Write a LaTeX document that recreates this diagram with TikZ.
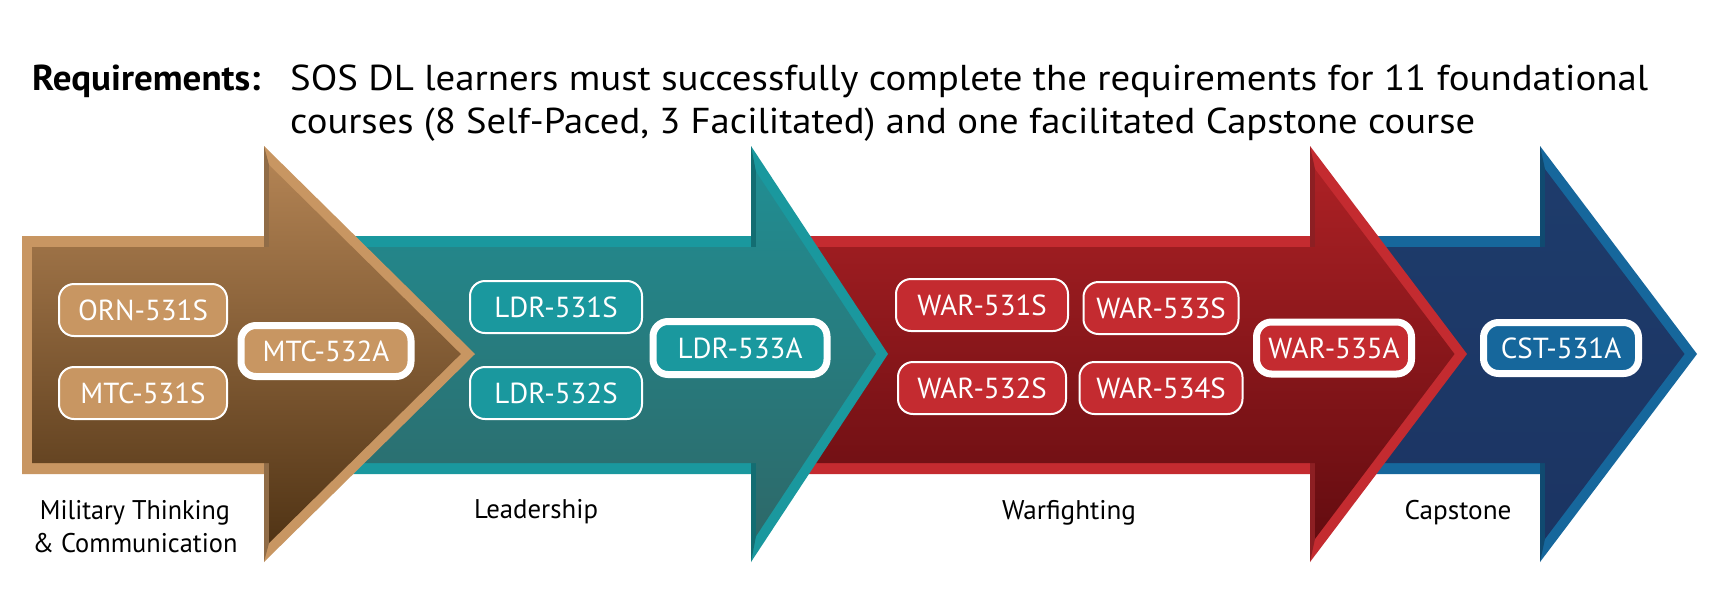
\documentclass[tikz,border=0pt]{standalone}
\usepackage{fontspec}
\setmainfont{PT Sans}
\usepackage{graphicx}
\definecolor{brBorder}{RGB}{200,150,98}
\definecolor{brTop}{RGB}{182,134,86}
\definecolor{brMid}{RGB}{108,73,39}
\definecolor{brBot}{RGB}{76,48,18}
\definecolor{tlBorder}{RGB}{26,152,158}
\definecolor{tlTop}{RGB}{32,144,149}
\definecolor{tlMid}{RGB}{38,116,118}
\definecolor{tlBot}{RGB}{46,102,102}
\definecolor{rdBorder}{RGB}{196,43,48}
\definecolor{rdTop}{RGB}{176,34,38}
\definecolor{rdMid}{RGB}{114,19,23}
\definecolor{rdBot}{RGB}{96,11,15}
\definecolor{blBorder}{RGB}{22,103,156}
\definecolor{blTop}{RGB}{30,60,108}
\definecolor{blMid}{RGB}{28,55,101}
\definecolor{blBot}{RGB}{27,52,98}
\newcommand\fitto[2]{\resizebox{#1}{\height}{#2}}
% #1 left x, #2 head back x, #3 tip x, #4 inner tip x, #5 inner head-top y, #6 colour prefix
\newcommand\sosarrow[6]{%
  \fill[#6Border] (#1,236) -- (#2,236) -- (#2,146) -- (#3,354) -- (#2,562) -- (#2,474) -- (#1,474) -- cycle;
  \fill[#6Border!72!black] (#2,146) -- (#2+5,#5) -- (#2+5,247) -- (#2,247) -- cycle;
  \fill[#6Border!72!black] (#2,562) -- (#2+5,708-#5) -- (#2+5,463) -- (#2,463) -- cycle;
  \begin{scope}
    \clip (#1+10,247) -- (#2+5,247) -- (#2+5,#5) -- (#4,354) -- (#2+5,708-#5) -- (#2+5,463) -- (#1+10,463) -- cycle;
    \shade[top color=#6Top, middle color=#6Mid, bottom color=#6Bot] (#1,146) rectangle (#3,562);
  \end{scope}}
\begin{document}
\begin{tikzpicture}[x=1pt, y=-1pt,
  course/.style={rounded corners=15pt, draw=white, text=white, inner sep=0pt,
    font=\fontsize{29}{34}\selectfont},
  scourse/.style={course, line width=2pt, minimum height=52pt},
  acourse/.style={course, line width=7pt, minimum height=52pt},
  lbl/.style={inner sep=0pt, anchor=base, text=black, font=\fontsize{27}{32}\selectfont},
  head/.style={inner sep=0pt, anchor=base west, text=black, font=\fontsize{36}{43}\selectfont}]
\fill[white] (0,0) rectangle (1726,590);
\useasboundingbox (0,0) rectangle (1726,590);

% arrows, back to front
\sosarrow{1340}{1540}{1697}{1684.5}{169.2}{bl}
\sosarrow{780}{1310}{1467}{1454.5}{169.2}{rd}
\sosarrow{300}{751}{888}{876}{171.8}{tl}
\sosarrow{22}{264}{475}{460.8}{164.9}{br}

% heading
\node[head, font=\fontsize{36}{43}\selectfont\bfseries] (req) at (32,90) {\fitto{228pt}{Requirements:}};
\node[head] (line1) at (290,90) {\fitto{1358pt}{SOS DL learners must successfully complete the requirements for 11 foundational}};
\node[head] (line2) at (290,133) {\fitto{1185pt}{courses (8 Self-Paced, 3 Facilitated) and one facilitated Capstone course}};

% Military Thinking & Communication
\node[scourse, fill=brBorder, minimum width=168pt] (orn531) at (143,310) {ORN-531S};
\node[scourse, fill=brBorder, minimum width=168pt] (mtc531) at (143,393) {MTC-531S};
\node[acourse, fill=brBorder, minimum width=170pt, minimum height=51pt] (mtc532) at (326,351) {MTC-532A};

% Leadership
\node[scourse, fill=tlBorder, minimum width=172pt] (ldr531) at (556,307) {LDR-531S};
\node[scourse, fill=tlBorder, minimum width=172pt] (ldr532) at (556,393) {LDR-532S};
\node[acourse, fill=tlBorder, minimum width=174pt, minimum height=53pt] (ldr533) at (740,348) {LDR-533A};

% Warfighting
\node[scourse, fill=rdBorder, minimum width=172pt] (war531) at (982,305) {WAR-531S};
\node[scourse, fill=rdBorder, minimum width=155pt] (war533) at (1161,308) {WAR-533S};
\node[scourse, fill=rdBorder, minimum width=168pt] (war532) at (982,388) {WAR-532S};
\node[scourse, fill=rdBorder, minimum width=163pt] (war534) at (1161,388) {WAR-534S};
\node[acourse, fill=rdBorder, minimum width=155pt, minimum height=52pt] (war535) at (1334,348) {WAR-535A};

% Capstone
\node[acourse, fill=blBorder, minimum width=155pt, minimum height=51pt] (cst531) at (1561,348) {CST-531A};

% category labels
\node[lbl] (mil1) at (135,519) {\fitto{190pt}{Military Thinking}};
\node[lbl] (mil2) at (135,552) {\fitto{205pt}{\& Communication}};
\node[lbl] (ldrlbl) at (536,518) {\fitto{124pt}{Leadership}};
\node[lbl] (warlbl) at (1069,519) {\fitto{134pt}{Warfighting}};
\node[lbl] (caplbl) at (1458,519) {\fitto{107pt}{Capstone}};
\end{tikzpicture}
\end{document}
